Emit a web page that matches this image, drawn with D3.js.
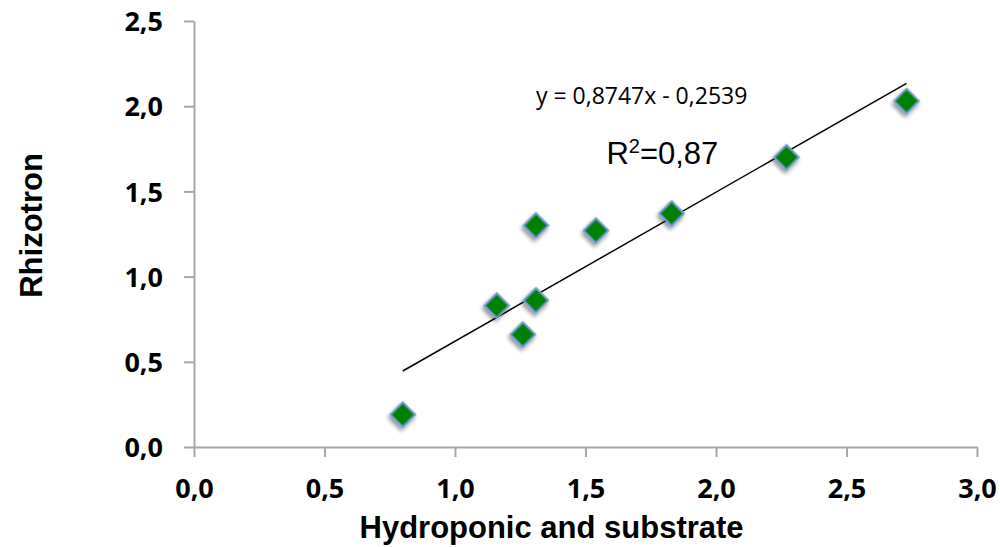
<!DOCTYPE html>
<html>
<head>
<meta charset="utf-8">
<script src="https://cdn.jsdelivr.net/npm/d3@7"></script>
<style>
  body { margin: 0; background: #fff; }
  svg { display: block; }
</style>
</head>
<body>
<svg id="chart"></svg>
<script>
// data
const hydroponic = [0.80, 1.16, 1.26, 1.31, 1.31, 1.54, 1.83, 2.27, 2.73];
const rhizotron  = [0.19, 0.83, 0.66, 0.86, 1.30, 1.27, 1.37, 1.70, 2.03];
const xTicks = [0, 0.5, 1.0, 1.5, 2.0, 2.5, 3.0];
const yTicks = [0, 0.5, 1.0, 1.5, 2.0, 2.5];
const slope = 0.8747, intercept = -0.2539;
const trendRange = [0.80, 2.73];

const config = {
    width: 1000,
    height: 547,
    margin: {top: 21, right: 23, bottom: 100, left: 194}
};

const svg = d3.select('#chart')
    .attr('width', config.width)
    .attr('height', config.height);

const innerW = config.width - config.margin.left - config.margin.right;
const innerH = config.height - config.margin.top - config.margin.bottom;

const chart = svg.append('g')
    .attr('transform', `translate(${config.margin.left},${config.margin.top})`);

const xScale = d3.scaleLinear().domain([0, 3]).range([0, innerW]);
const yScale = d3.scaleLinear().domain([0, 2.5]).range([innerH, 0]);

const fmt = d => d3.format('.1f')(d).replace('.', ',');

// shadow for markers
const defs = svg.append('defs');
const shadow = defs.append('filter').attr('id', 'shadow')
    .attr('x', '-50%').attr('y', '-50%').attr('width', '200%').attr('height', '200%');
shadow.append('feGaussianBlur').attr('in', 'SourceAlpha').attr('stdDeviation', 2);
shadow.append('feOffset').attr('dx', 1).attr('dy', 3).attr('result', 'off');
shadow.append('feComponentTransfer').append('feFuncA').attr('type', 'linear').attr('slope', 0.45);
const merge = shadow.append('feMerge');
merge.append('feMergeNode');
merge.append('feMergeNode').attr('in', 'SourceGraphic');

// axes
const xAxis = chart.append('g')
    .attr('transform', `translate(0,${innerH})`)
    .call(d3.axisBottom(xScale).tickValues(xTicks).tickFormat(fmt).tickSize(10).tickSizeOuter(0).tickPadding(22));

const yAxis = chart.append('g')
    .call(d3.axisLeft(yScale).tickValues(yTicks).tickFormat(fmt).tickSize(10).tickSizeOuter(0).tickPadding(21));

[xAxis, yAxis].forEach(ax => {
    ax.select('.domain').attr('stroke', '#a6a6a6').attr('stroke-width', 2);
    ax.selectAll('.tick line').attr('stroke', '#a6a6a6').attr('stroke-width', 2);
    ax.selectAll('.tick text')
        .attr('fill', '#000')
        .style('font-family', '"Open Sans", sans-serif')
        .style('font-weight', 'bold')
        .style('font-size', '27px');
});
yAxis.selectAll('.tick text').attr('dy', '0.36em');

// trend line
chart.append('line')
    .attr('x1', xScale(trendRange[0]))
    .attr('y1', yScale(slope * trendRange[0] + intercept))
    .attr('x2', xScale(trendRange[1]))
    .attr('y2', yScale(slope * trendRange[1] + intercept))
    .attr('stroke', '#000')
    .attr('stroke-width', 1.5);

// diamonds
const pts = hydroponic.map((x, i) => ({x, y: rhizotron[i]}));
chart.selectAll('.pt')
    .data(pts)
    .join('path')
    .attr('class', 'pt')
    .attr('d', d3.symbol().type(d3.symbolSquare).size(300))
    .attr('transform', d => `translate(${xScale(d.x)},${yScale(d.y)}) rotate(45)`)
    .attr('fill', '#008000')
    .attr('stroke', '#6c9bd2')
    .attr('stroke-width', 2)
    .attr('filter', 'url(#shadow)');

// equation and R2
chart.append('text')
    .attr('x', xScale(1.31))
    .attr('y', yScale(2.0))
    .attr('dy', '-0.1em')
    .style('font-family', '"Open Sans", sans-serif')
    .style('font-size', '23px')
    .text('y = 0,8747x - 0,2539');

const r2 = chart.append('text')
    .attr('x', xScale(1.58))
    .attr('y', yScale(1.66))
    .style('font-family', '"Liberation Sans", Arial, sans-serif')
    .style('font-size', '31px');
r2.append('tspan').text('R');
r2.append('tspan').attr('baseline-shift', 'super').style('font-size', '20px').text('2');
r2.append('tspan').text('=0,87');

// axis titles
svg.append('text')
    .attr('x', config.margin.left + xScale(1.37))
    .attr('y', 538)
    .attr('text-anchor', 'middle')
    .style('font-family', '"Liberation Sans", Arial, sans-serif')
    .style('font-weight', 'bold')
    .style('font-size', '31px')
    .text('Hydroponic and substrate');

svg.append('text')
    .attr('transform', `translate(42,${config.margin.top + yScale(1.3)}) rotate(-90)`)
    .attr('text-anchor', 'middle')
    .style('font-family', '"Liberation Sans", Arial, sans-serif')
    .style('font-weight', 'bold')
    .style('font-size', '31px')
    .text('Rhizotron');
</script>
</body>
</html>
